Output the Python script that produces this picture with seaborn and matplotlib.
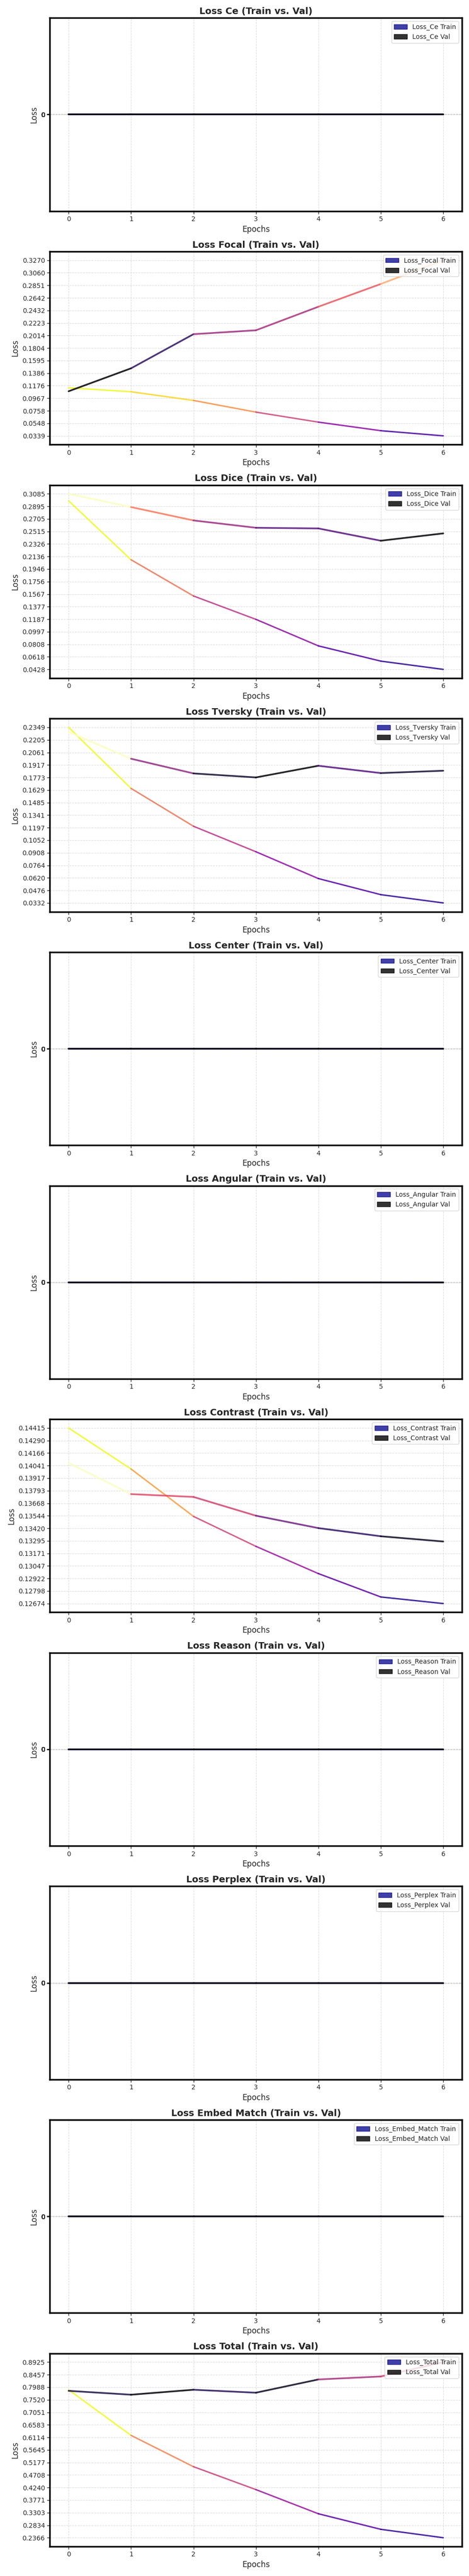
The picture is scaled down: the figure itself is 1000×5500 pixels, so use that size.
import numpy as np
import pandas as pd
import matplotlib
matplotlib.use("Agg")
import matplotlib.pyplot as plt
from matplotlib.patches import Patch
from matplotlib.colors import Normalize
import seaborn as sns

sns.set_style("white")

epochs = [0, 1, 2, 3, 4, 5, 6]

loss_names = ['Ce', 'Focal', 'Dice', 'Tversky', 'Center', 'Angular',
              'Contrast', 'Reason', 'Perplex', 'Embed_Match', 'Total']

zeros = [0, 0, 0, 0, 0, 0, 0]

train_ce = zeros
val_ce = zeros
train_focal = [0.1141, 0.1075, 0.0930, 0.0735, 0.0568, 0.0425, 0.033905]
val_focal = [0.1083, 0.1466, 0.2036, 0.2101, 0.2494, 0.2874, 0.326953]
train_dice = [0.2979, 0.2087, 0.1539, 0.1185, 0.0784, 0.0553, 0.042808]
val_dice = [0.308472, 0.2884, 0.2682, 0.2571, 0.2561, 0.2375, 0.2486]
train_tversky = [0.234935, 0.1648, 0.1213, 0.0920, 0.0612, 0.0427, 0.033195]
val_tversky = [0.2297, 0.1989, 0.1820, 0.1774, 0.1908, 0.1824, 0.1851]
train_center = zeros
val_center = zeros
train_angular = zeros
val_angular = zeros
train_contrast = [0.1441451, 0.14008, 0.13538, 0.13241, 0.12971, 0.12739, 0.1267375]
val_contrast = [0.14068, 0.13759, 0.13731, 0.13545, 0.13422, 0.13341, 0.13289]
train_reason = zeros
val_reason = zeros
train_perplex = zeros
val_perplex = zeros
train_embed = zeros
val_embed = zeros
train_total = [0.7895, 0.6190, 0.5020, 0.4164, 0.3262, 0.2680, 0.2366]
val_total = [0.7854, 0.7709, 0.7895, 0.7784, 0.8279, 0.8390, 0.8925]

train_vals = [train_ce, train_focal, train_dice, train_tversky, train_center,
              train_angular, train_contrast, train_reason, train_perplex,
              train_embed, train_total]
val_vals = [val_ce, val_focal, val_dice, val_tversky, val_center,
            val_angular, val_contrast, val_reason, val_perplex,
            val_embed, val_total]


def gradient_line(ax, x, y, cmap_name, lw, alpha):
    # one segment per pair of epochs, colour from the starting value
    y = np.asarray(y, dtype=float)
    norm = Normalize(vmin=y.min(), vmax=y.max())
    cmap = plt.get_cmap(cmap_name)
    rows = []
    palette = {}
    for i in range(len(x) - 1):
        rows.append({'epoch': x[i], 'loss': y[i], 'seg': i})
        rows.append({'epoch': x[i + 1], 'loss': y[i + 1], 'seg': i})
        palette[i] = cmap(float(norm(y[i])))
    df = pd.DataFrame(rows)
    sns.lineplot(data=df, x='epoch', y='loss', hue='seg', palette=palette,
                 estimator=None, legend=False, linewidth=lw, alpha=alpha, ax=ax)


fig, axes = plt.subplots(len(loss_names), 1, figsize=(10, 55), dpi=100)

for ax, name, tr, va in zip(axes, loss_names, train_vals, val_vals):
    gradient_line(ax, epochs, tr, 'plasma', 2.2, 0.85)
    gradient_line(ax, epochs, va, 'magma', 2.6, 0.85)

    all_v = np.array(tr + va, dtype=float)
    lo, hi = all_v.min(), all_v.max()
    rng = hi - lo
    ticks = np.linspace(lo, hi, 15)
    ax.set_yticks(ticks)
    if rng == 0:
        ax.set_yticklabels(['0'] * len(ticks))
    else:
        dec = max(4, 3 - int(np.floor(np.log10(rng))))
        ax.set_yticklabels([f"{t:.{dec}f}" for t in ticks])
    ax.set_xticks(epochs)

    ax.set_title(f"Loss {name.replace('_', ' ')} (Train vs. Val)",
                 fontsize=14, fontweight='bold')
    ax.set_xlabel("Epochs", fontsize=12)
    ax.set_ylabel("Loss", fontsize=12)
    ax.grid(True, linestyle='--', alpha=0.7)
    ax.tick_params(axis='both', labelsize=10, length=4, width=1,
                   left=True, bottom=True)
    for sp in ax.spines.values():
        sp.set_visible(True)
        sp.set_color('black')
        sp.set_linewidth(2.5)

    handles = [Patch(color='darkblue', alpha=0.75, label=f"Loss_{name} Train"),
               Patch(color='black', alpha=0.8, label=f"Loss_{name} Val")]
    ax.legend(handles=handles, loc='upper right', fontsize=10)

plt.tight_layout()
plt.savefig("out.png", dpi=100)
